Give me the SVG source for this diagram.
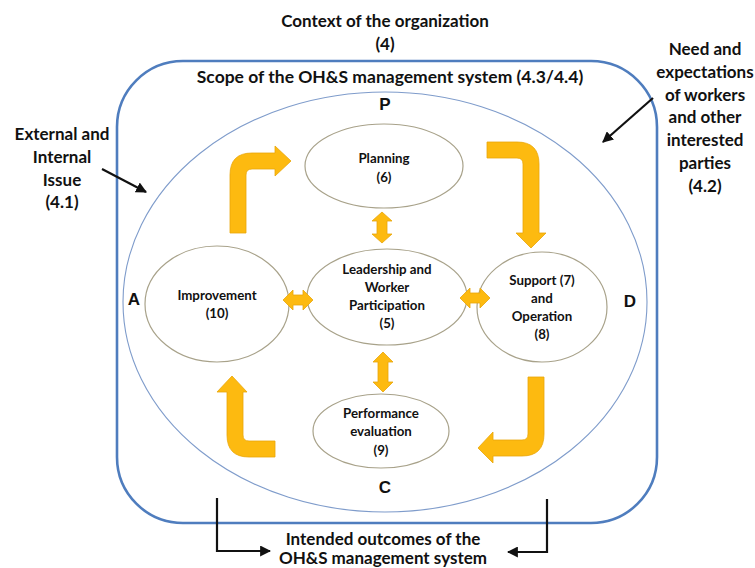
<svg xmlns="http://www.w3.org/2000/svg" width="755" height="568" viewBox="0 0 755 568">
<style>
  text { font-family: Lato, "Liberation Sans", sans-serif; font-weight: bold; fill: #111; text-anchor: middle; }
  .big { font-size: 17px; }
  .scope { font-size: 17.5px; }
  .node { font-size: 13.3px; }
  .letter { font-size: 17px; font-family: "Liberation Sans", sans-serif; }
  .ell { fill: #fff; stroke: #a8a28a; stroke-width: 1.2; }
  .yarrow { fill: #FDBA10; stroke: #E9A60A; stroke-width: 0.8; }
  .blk { fill: none; stroke: #111; stroke-width: 2.2; }
</style>
<defs>
  <marker id="ah" viewBox="0 0 10 10" refX="9" refY="5" markerWidth="5" markerHeight="5" orient="auto">
    <path d="M0,0 L10,5 L0,10 Z" fill="#111"/>
  </marker>
</defs>
<rect width="755" height="568" fill="#fff"/>

<g id="context">
  <rect x="117" y="61" width="540" height="462" rx="66" ry="66" fill="none" stroke="#4F7DBE" stroke-width="2.6"/>
  <text class="big" x="385" y="27">Context of the organization</text>
  <text class="big" x="385" y="50">(4)</text>
</g>
<g id="scope">
  <ellipse cx="385" cy="302" rx="262" ry="210" fill="none" stroke="#7F9CCB" stroke-width="1.1"/>
  <text class="scope" x="390" y="83">Scope of the OH&amp;S management system (4.3/4.4)</text>
</g>
<g id="pdca-letters">
  <text class="letter" x="385" y="110">P</text>
  <text class="letter" x="134" y="305">A</text>
  <text class="letter" x="630" y="307">D</text>
  <text class="letter" x="385" y="493">C</text>
</g>
<g id="external">
  <text class="big" x="62" y="140">External and</text>
  <text class="big" x="62" y="163">Internal</text>
  <text class="big" x="62" y="186">Issue</text>
  <text class="big" x="62" y="208">(4.1)</text>
</g>
<g id="needs">
  <text class="big" x="705" y="55">Need and</text>
  <text class="big" x="705" y="78">expectations</text>
  <text class="big" x="705" y="101">of workers</text>
  <text class="big" x="705" y="123">and other</text>
  <text class="big" x="705" y="146">interested</text>
  <text class="big" x="705" y="169">parties</text>
  <text class="big" x="705" y="192">(4.2)</text>
</g>
<g id="outcomes">
  <text class="big" x="383" y="545">Intended outcomes of the</text>
  <text class="big" x="383" y="564">OH&amp;S management system</text>
</g>

<g id="planning">
  <ellipse class="ell" cx="384" cy="166" rx="79" ry="42"/>
  <text class="node" x="384" y="163">Planning</text>
  <text class="node" x="384" y="182">(6)</text>
</g>
<g id="leadership">
  <ellipse class="ell" cx="387" cy="297" rx="80" ry="48"/>
  <text class="node" x="387" y="274">Leadership and</text>
  <text class="node" x="387" y="292">Worker</text>
  <text class="node" x="387" y="310">Participation</text>
  <text class="node" x="387" y="328">(5)</text>
</g>
<g id="improvement">
  <ellipse class="ell" cx="217" cy="304" rx="72" ry="58"/>
  <text class="node" x="217" y="300">Improvement</text>
  <text class="node" x="217" y="318">(10)</text>
</g>
<g id="support">
  <ellipse class="ell" cx="542" cy="307" rx="65" ry="55"/>
  <text class="node" x="542" y="285">Support (7)</text>
  <text class="node" x="542" y="303">and</text>
  <text class="node" x="542" y="321">Operation</text>
  <text class="node" x="542" y="339">(8)</text>
</g>
<g id="performance">
  <ellipse class="ell" cx="381" cy="431" rx="68" ry="37"/>
  <text class="node" x="381" y="418">Performance</text>
  <text class="node" x="381" y="436">evaluation</text>
  <text class="node" x="381" y="455">(9)</text>
</g>

<g id="connectors">
  <path class="yarrow" d="M230,233 L230,175 Q230,153 252,153 L275,153 L275,146 L291,161 L275,176 L275,169 L252,169 Q246,169 246,175 L246,233 Z"/>
  <path class="yarrow" d="M487,142 L517,142 Q539,142 539,164 L539,233 L546,233 L531,248 L516,233 L523,233 L523,164 Q523,158 517,158 L487,158 Z"/>
  <path class="yarrow" d="M544,377 L544,434 Q544,456 522,456 L493,456 L493,463 L478,448 L493,432 L493,440 L522,440 Q528,440 528,434 L528,377 Z"/>
  <path class="yarrow" d="M275,457 L249,457 Q227,457 227,435 L227,392 L217,392 L232,376 L247,392 L243,392 L243,435 Q243,441 249,441 L275,441 Z"/>
  <path class="yarrow" d="M382,212 L392,221 L387,221 L387,234 L392,234 L382,243 L372,234 L377,234 L377,221 L372,221 Z"/>
  <path class="yarrow" d="M383,352 L393,362 L388,362 L388,382 L393,382 L383,392 L373,382 L378,382 L378,362 L373,362 Z"/>
  <path class="yarrow" d="M283,300 L293,290 L293,295 L303,295 L303,290 L313,300 L303,310 L303,305 L293,305 L293,310 Z"/>
  <path class="yarrow" d="M460,298 L470,288 L470,293 L480,293 L480,288 L490,298 L480,308 L480,303 L470,303 L470,308 Z"/>
  <line class="blk" x1="102" y1="169" x2="146" y2="192" marker-end="url(#ah)"/>
  <line class="blk" x1="653" y1="98" x2="603" y2="142" marker-end="url(#ah)"/>
  <path class="blk" d="M217,498 L217,551 L270,551" marker-end="url(#ah)"/>
  <path class="blk" d="M547,499 L547,552 L508,552" marker-end="url(#ah)"/>
</g>
</svg>
